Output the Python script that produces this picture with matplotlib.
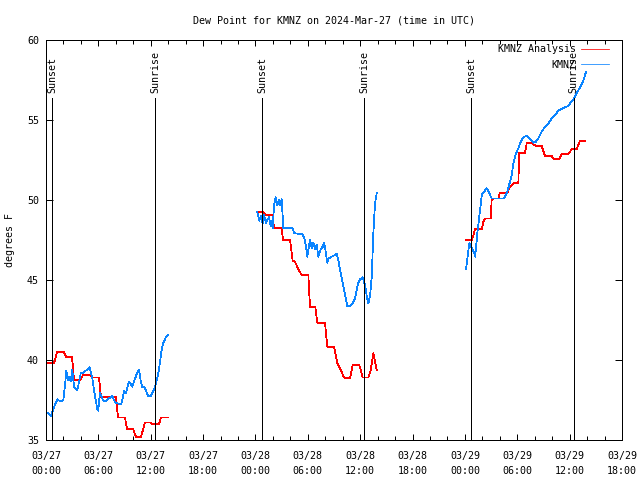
import numpy as np
import pandas as pd
import matplotlib
matplotlib.use("Agg")
import matplotlib.pyplot as plt
import matplotlib.dates as mdates

START = pd.Timestamp("2024-03-27 00:00")

# hours after 03/27 00:00 UTC and dew point (deg F)
analysis_hours = [
    [0.23, 0.92, 1.26, 2.06, 2.29, 2.98, 3.21, 3.90, 4.24, 5.16, 5.27, 6.07, 6.30, 8.02, 8.25,
     9.05, 9.28, 9.97, 10.31, 10.89, 11.34, 12.03, 12.15, 12.95, 13.18, 13.98],
    [24.21, 24.83, 25.21, 25.98, 26.13, 27.01, 27.16, 27.96, 28.13, 28.27, 28.53, 28.91, 29.30,
     30.06, 30.25, 30.86, 31.09, 31.97, 32.23, 33.00, 33.23, 33.38, 33.69, 34.15, 34.84, 35.14,
     35.90, 36.29, 36.93, 37.21, 37.51, 37.70, 37.89],
    [48.13, 48.78, 49.04, 49.16, 49.93, 50.11, 50.30, 50.96, 51.07, 51.26, 51.83, 52.02, 52.86,
     53.17, 53.55, 54.12, 54.23, 54.89, 55.08, 55.65, 56.23, 56.80, 57.18, 57.95, 58.21, 58.82,
     59.09, 59.85, 60.24, 60.81, 61.19, 61.76],
]
analysis_dewp = [
    [39.8, 39.8, 40.5, 40.5, 40.2, 40.2, 38.75, 38.75, 39.05, 39.05, 38.9, 38.9, 37.7, 37.7, 36.4,
     36.4, 35.7, 35.7, 35.2, 35.2, 36.1, 36.1, 36.0, 36.0, 36.4, 36.4],
    [49.27, 49.27, 49.06, 49.06, 48.23, 48.23, 47.5, 47.5, 46.77, 46.2, 46.14, 45.67, 45.3,
     45.3, 43.3, 43.29, 42.33, 42.33, 40.83, 40.83, 40.2, 39.8, 39.48, 38.9, 38.85, 39.69,
     39.69, 38.9, 38.9, 39.375, 40.42, 39.9, 39.375],
    [47.5, 47.5, 47.92, 48.17, 48.17, 48.65, 48.85, 48.85, 50.04, 50.1, 50.1, 50.46, 50.46,
     50.83, 51.04, 51.04, 52.96, 52.96, 53.54, 53.54, 53.375, 53.375, 52.75, 52.75, 52.54, 52.54,
     52.875, 52.875, 53.17, 53.17, 53.71, 53.71],
]

station_hours = [
    [0.23, 0.54, 0.92, 1.29, 1.68, 1.98, 2.18, 2.33, 2.52, 2.67, 2.83, 3.01, 3.21, 3.40, 3.59,
     3.98, 4.27, 4.55, 4.85, 5.01, 5.31, 5.50, 5.70, 5.88, 5.99, 6.07, 6.19, 6.50, 6.73, 7.41,
     7.60, 7.79, 7.99, 8.63, 8.79, 8.94, 9.13, 9.51, 9.89, 10.08, 10.46, 10.66, 10.85, 11.04,
     11.31, 11.69, 12.00, 12.46, 12.83, 13.06, 13.21, 13.44, 13.72, 13.98],
    [24.21, 24.44, 24.64, 24.83, 24.98, 25.21, 25.36, 25.55, 25.75, 25.86, 25.98, 26.13, 26.32,
     26.50, 26.70, 26.81, 27.01, 27.19, 28.27, 28.45, 29.30, 29.56, 29.79, 29.94, 30.10, 30.25,
     30.45, 30.63, 30.82, 31.02, 31.20, 31.48, 31.71, 31.86, 32.05, 32.23, 32.39, 32.74, 33.12,
     33.31, 33.49, 33.69, 33.88, 34.15, 34.38, 34.53, 34.84, 35.14, 35.41, 35.60, 35.79, 35.98,
     36.29, 36.44, 36.59, 36.75, 36.93, 37.13, 37.32, 37.51, 37.70, 37.89],
    [48.13, 48.28, 48.51, 48.70, 48.89, 49.04, 49.16, 49.27, 49.42, 49.65, 49.93, 50.19, 50.50,
     50.76, 51.07, 52.48, 52.79, 52.97, 53.17, 53.36, 53.55, 53.74, 53.94, 54.12, 54.31, 54.51,
     54.77, 55.08, 55.46, 55.84, 56.15, 56.41, 56.80, 57.18, 57.56, 57.95, 58.33, 58.70, 59.09,
     59.47, 59.85, 60.04, 60.42, 60.81, 61.19, 61.57, 61.88],
]
station_dewp = [
    [36.67, 36.5, 37.04, 37.54, 37.4, 37.5, 38.4, 39.33, 38.75, 38.96, 38.65, 39.375, 38.33,
     38.19, 38.1, 39.17, 39.2, 39.33, 39.44, 39.54, 38.85, 38.1, 37.5, 36.9, 36.83, 37.33, 37.96,
     37.54, 37.4, 37.67, 37.75, 37.5, 37.3, 37.25, 37.6, 38.08, 37.9, 38.65, 38.33, 38.65, 39.23,
     39.375, 38.7, 38.29, 38.29, 37.75, 37.75, 38.23, 39.06, 39.83, 40.52, 41.08, 41.4, 41.56],
    [49.27, 48.7, 49.0, 48.54, 49.06, 48.54, 48.75, 48.92, 48.375, 48.71, 48.23, 49.69, 50.17,
     49.69, 50.0, 49.69, 50.04, 48.23, 48.23, 47.92, 47.875, 47.7, 47.08, 46.46, 46.98, 47.5,
     46.98, 47.33, 46.92, 47.19, 46.46, 46.94, 47.08, 47.33, 46.77, 46.08, 46.35, 46.46, 46.56,
     46.625, 46.25, 45.625, 45.1, 44.375, 43.75, 43.375, 43.375, 43.54, 43.85, 44.375, 44.83,
     45.04, 45.17, 44.9, 44.58, 44.0, 43.54, 44.0, 45.17, 47.92, 49.79, 50.42],
    [45.67, 46.35, 47.29, 47.08, 46.875, 46.77, 46.46, 46.98, 47.92, 48.96, 50.31, 50.52, 50.73,
     50.46, 50.1, 50.1, 50.42, 50.73, 51.15, 51.56, 52.29, 52.71, 53.02, 53.23, 53.54, 53.75,
     53.96, 54.0, 53.79, 53.58, 53.65, 53.85, 54.27, 54.58, 54.79, 55.1, 55.31, 55.58, 55.69,
     55.79, 55.875, 56.04, 56.29, 56.67, 57.04, 57.46, 58.02],
]

sun_hours = [0.69, 12.52, 24.79, 36.47, 48.74, 60.47]
sun_labels = ["Sunset", "Sunrise", "Sunset", "Sunrise", "Sunset", "Sunrise"]


def join_segments(hours, values):
    # NaN between segments so the line breaks at the data gaps
    h, v = [], []
    for hh, vv in zip(hours, values):
        h += hh + [np.nan]
        v += vv + [np.nan]
    t = [START + pd.Timedelta(hours=x) if not np.isnan(x) else pd.NaT for x in h]
    return pd.to_datetime(t), np.array(v)


plt.rcParams["font.family"] = "DejaVu Sans Mono"
plt.rcParams["font.size"] = 7.2

fig = plt.figure(figsize=(6.4, 4.8), dpi=100)
ax = fig.add_axes([46 / 640, 40 / 480, 576 / 640, 400 / 480])

t_a, v_a = join_segments(analysis_hours, analysis_dewp)
t_s, v_s = join_segments(station_hours, station_dewp)
ax.plot(t_a, v_a, color="#ff0000", lw=0.55, antialiased=False, label="KMNZ Analysis")
ax.plot(t_s, v_s, color="#0a84ff", lw=0.55, antialiased=False, label="KMNZ")

sun_times = [START + pd.Timedelta(hours=h) for h in sun_hours]
ax.vlines(sun_times, 35, 56.4, color="black", lw=0.72, antialiased=False)
for t, lbl in zip(sun_times, sun_labels):
    ax.text(t, 56.7, lbl, rotation=90, ha="center", va="bottom")

ax.set_xlim(START, START + pd.Timedelta(hours=66))
ax.set_ylim(35, 60)
ax.set_yticks(np.arange(35, 61, 5))
ax.xaxis.set_major_locator(mdates.HourLocator(byhour=range(0, 24, 6)))
ax.xaxis.set_minor_locator(mdates.HourLocator(byhour=range(0, 24, 2)))
ax.xaxis.set_major_formatter(mdates.DateFormatter("%m/%d\n%H:%M"))
ax.tick_params(axis="both", which="both", direction="in", top=True, right=True, width=0.72)
ax.tick_params(axis="x", which="major", length=4, pad=8)
ax.tick_params(axis="x", which="minor", length=3)
ax.tick_params(axis="y", length=5, pad=5)
for lab in ax.get_xticklabels():
    lab.set_linespacing(1.6)
for s in ax.spines.values():
    s.set_linewidth(0.72)

ax.set_ylabel("degrees F", labelpad=9)
ax.set_title("Dew Point for KMNZ on 2024-Mar-27 (time in UTC)", fontsize=7.2, pad=12)
ax.legend(loc="upper right", frameon=False, markerfirst=False, handlelength=2.8,
          handletextpad=0.5, borderaxespad=0.2, borderpad=0.25, labelspacing=0.55,
          bbox_to_anchor=(0.985, 1.0))

fig.savefig("out.png", dpi=100)
